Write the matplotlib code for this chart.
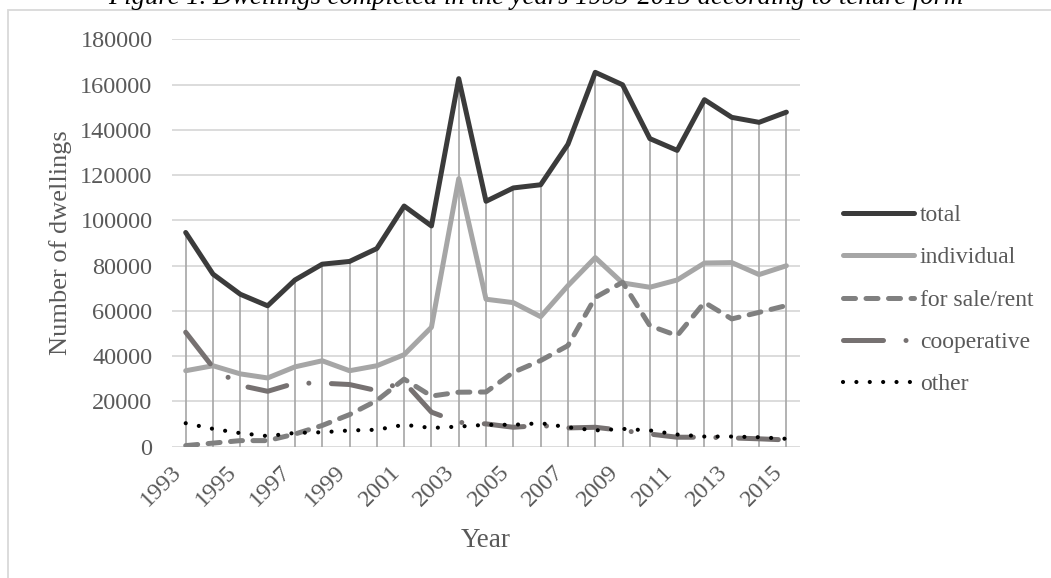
import matplotlib
matplotlib.use('Agg')
import matplotlib.pyplot as plt
from matplotlib.patches import Rectangle

years = list(range(1993, 2016))
total = [94600, 76200, 67300, 62200, 73600, 80600, 81800, 87500, 106300, 97500, 162600, 108400,
         114300, 115700, 133600, 165400, 159900, 136100, 130900, 153300, 145500, 143300, 147800]
individual = [33500, 35700, 32100, 30300, 35200, 37900, 33500, 35700, 40600, 52700, 118400, 65100,
              63600, 57400, 71100, 83500, 72300, 70400, 73600, 81100, 81300, 76000, 79900]
for_sale = [400, 1500, 2600, 2600, 5500, 9300, 14100, 20300, 29800, 22300, 24000, 24100,
            32800, 38000, 44600, 65900, 72600, 53400, 49000, 63700, 56400, 59300, 62300]
cooperative = [50500, 35000, 27000, 24400, 28000, 28000, 27400, 24700, 28500, 15200, 10700, 10000,
               8500, 9300, 8200, 8500, 7100, 5500, 4100, 4100, 3800, 3400, 2900]
other = [10300, 7800, 5900, 4600, 6000, 6300, 7100, 7400, 9600, 8200, 8800, 9600,
         9600, 10300, 8500, 7100, 7800, 7100, 5300, 4400, 4400, 4100, 3400]
tick_years = years[::2]

title = 'Figure 1. Dwellings completed in the years 1993-2015 according to tenure form'

plt.rcParams['font.family'] = ['Liberation Serif', 'DejaVu Serif']
txt = '#595959'

fig = plt.figure(figsize=(10.51, 5.78), dpi=100)
ax = fig.add_axes([0.1637, 0.2275, 0.5975, 0.7045])

# outer chart frame (clipped at right and bottom)
fig.patches.append(Rectangle((8 / 1051, -0.2), 1.5, 1 - 10 / 578 + 0.2, transform=fig.transFigure,
                             fill=False, edgecolor='#D9D9D9', linewidth=1.3))
fig.text(536 / 1051, 1 - 4 / 578, title, ha='center', va='baseline', fontsize=19.2,
         style='italic', color='black')

# drop lines
ax.vlines(years, 0, total, color='#A6A6A6', linewidth=1.2, zorder=2)

ax.plot(years, total, color='#3B3B3B', linewidth=3.6, solid_capstyle='round',
        solid_joinstyle='round', label='total', zorder=5)
ax.plot(years, individual, color='#A6A6A6', linewidth=3.6, solid_capstyle='round',
        solid_joinstyle='round', label='individual', zorder=4)
ax.plot(years, for_sale, color='#808080', linewidth=3.6, linestyle=(0, (2.4, 2.1)),
        dash_capstyle='round', label='for sale/rent', zorder=4)
ax.plot(years, cooperative, color='#767171', linewidth=3.6, linestyle=(0, (8.0, 4.5, 0.01, 4.5)),
        dash_capstyle='round', label='cooperative', zorder=4)
ax.plot(years, other, color='black', linewidth=3.0, linestyle=(0, (0.01, 3.2)),
        dash_capstyle='round', label='other', zorder=6)

ax.set_xlim(1992.5, 2015.5)
ax.set_ylim(0, 180000)
ax.set_yticks(range(0, 180001, 20000))
ax.set_xticks(tick_years)
ax.set_xticklabels([str(y) for y in tick_years], rotation=45, ha='right', va='top')
ax.grid(axis='y', color='#D9D9D9', linewidth=1.3, zorder=0)
ax.set_axisbelow(True)
for s in ax.spines.values():
    s.set_visible(False)
ax.tick_params(axis='both', length=0, labelsize=17.5, labelcolor=txt)
ax.tick_params(axis='y', pad=14)
ax.tick_params(axis='x', pad=11)

ax.set_ylabel('Number of dwellings', fontsize=19, color=txt)
ax.yaxis.set_label_coords(-0.159, 0.5)
ax.set_xlabel('Year', fontsize=19.5, color=txt)
ax.xaxis.set_label_coords(0.5, -0.2)

leg = ax.legend(loc='center left', bbox_to_anchor=(843 / 1051, 1 - 300 / 578),
                bbox_transform=fig.transFigure, frameon=False, fontsize=17,
                handlelength=3.0, handletextpad=0.25, labelspacing=0.88, borderpad=0,
                borderaxespad=0)
for t in leg.get_texts():
    t.set_color(txt)

fig.savefig('out.png', dpi=100)
